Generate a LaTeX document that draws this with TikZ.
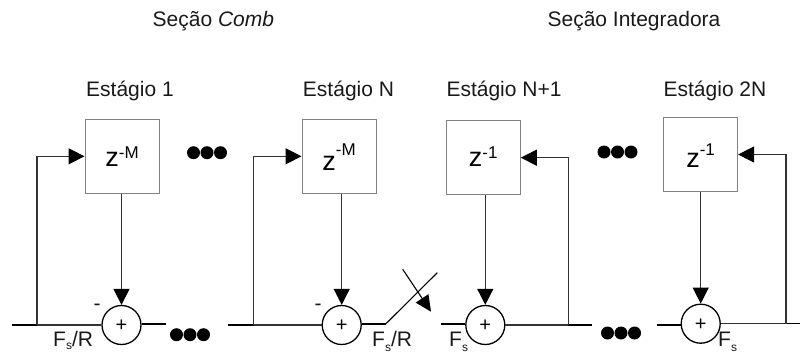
\documentclass[tikz,border=0pt]{standalone}
\usepackage{fontspec}
\setmainfont{Liberation Sans}
\usetikzlibrary{arrows.meta}

\newcommand{\zlabel}[3]{\raisebox{-#3pt}[0pt][0pt]{\fontsize{27}{30}\selectfont z\raisebox{#2pt}{\fontsize{17}{20}\selectfont #1}}}
\newcommand{\fslabel}[2]{F\raisebox{-#1pt}{\fontsize{12}{14}\selectfont s}#2}
\newcommand{\plussign}{\raisebox{-6.7pt}[0pt][0pt]{\fontsize{20}{24}\selectfont +}}

\tikzset{
  delaybox/.style={draw=cBox,line width=1pt,minimum size=74pt,inner sep=0pt},
  sumnode/.style={draw,circle,fill=white,line width=1.3pt,minimum size=39pt,inner sep=0pt},
  dotnode/.style={fill=black,circle,minimum size=13pt,inner sep=0pt},
  wire/.style={line width=1.3pt,black!80},
  busline/.style={line width=1.8pt},
  sigarrow/.style={wire,-{Triangle[length=16pt,width=16pt,color=black]}},
  lbl/.style={font=\fontsize{21}{24}\selectfont,inner sep=0pt,anchor=base,text=black!90},
  fslbl/.style={lbl,anchor=base west}
}

\begin{document}
\begin{tikzpicture}[x=1pt,y=-1pt]
  \definecolor{cBox}{RGB}{130,130,130}
  \useasboundingbox (0,0) rectangle (800,353);

  % section titles
  \node[lbl] (titleComb) at (213.4,26.7) {Seção \textit{Comb}};
  \node[lbl] (titleInt) at (634,26.7) {Seção Integradora};

  % stage titles
  \node[lbl] (stage1) at (130,96) {Estágio 1};
  \node[lbl] (stageN) at (348.5,96) {Estágio N};
  \node[lbl] (stageNp) at (504,96) {Estágio N+1};
  \node[lbl] (stage2N) at (715,96) {Estágio 2N};

  % delay boxes
  \node[delaybox] (box1) at (122,156.3) {\zlabel{-M}{8}{9.7}};
  \node[delaybox] (boxN) at (339,156.3) {\zlabel{-M}{15}{13.7}};
  \node[delaybox] (boxNp) at (483.3,157.7) {\zlabel{-1}{8.5}{9}};
  \node[delaybox] (box2N) at (700.6,154.5) {\zlabel{-1}{12}{13}};

  % adders
  \node[sumnode] (sum1) at (121.5,325) {\plussign};
  \node[sumnode] (sumN) at (341.7,325) {\plussign};
  \node[sumnode] (sumNp) at (485.3,325) {\plussign};
  \node[sumnode] (sum2N) at (700.7,323.7) {\plussign};

  % line ends and taps
  \coordinate (in1) at (12,325);
  \coordinate (tap1) at (37,325);
  \coordinate (out1) at (166,324);
  \coordinate (inN) at (228,325);
  \coordinate (tapN) at (253.5,325);
  \coordinate (swA) at (385.7,324);
  \coordinate (swB) at (437.3,272.7);
  \coordinate (swC) at (402.7,269.3);
  \coordinate (swD) at (431,311.7);
  \coordinate (inNp) at (441,324);
  \coordinate (tapNp) at (568.3,325);
  \coordinate (outNp) at (591.7,325);
  \coordinate (in2N) at (657,325);
  \coordinate (tap2N) at (786,323.5);
  \coordinate (out2N) at (800,323.5);

  % comb stages
  \draw[busline] (in1) -- (tap1);
  \draw[wire] (tap1) -- (sum1.west);
  \draw[busline] (out1 -| sum1.east) -- (out1);
  \draw[sigarrow] (tap1) |- (box1.west);
  \draw[sigarrow] (box1.south -| sum1.north) -- (sum1.north);
  \draw[busline] (inN) -- (tapN);
  \draw[wire] (tapN) -- (sumN.west);
  \draw[sigarrow] (tapN) |- (boxN.west);
  \draw[sigarrow] (boxN.south -| sumN.north) -- (sumN.north);

  % rate-change switch
  \draw[busline] (swA -| sumN.east) -- (swA);
  \draw[line width=1.1pt] (swA) -- (swB);
  \draw[line width=1.1pt,-{Triangle[length=16pt,width=15pt]}] (swC) -- (swD);

  % integrator stages
  \draw[busline] (inNp) -- (inNp -| sumNp.west);
  \draw[wire] (sumNp.east) -- (tapNp);
  \draw[busline] (tapNp) -- (outNp);
  \draw[sigarrow] (tapNp) |- (boxNp.east);
  \draw[sigarrow] (boxNp.south -| sumNp.north) -- (sumNp.north);
  \draw[busline] (in2N) -- (in2N -| sum2N.west);
  \draw[wire] (tap2N -| sum2N.east) -- (tap2N);
  \draw[busline] (tap2N) -- (out2N);
  \draw[sigarrow] (tap2N) |- (box2N.east);
  \draw[sigarrow] (box2N.south -| sum2N.north) -- (sum2N.north);

  % continuation dots
  \foreach \cx/\cy [count=\i] in {193.5/152.7,176.5/334.7,604/152,607.5/333}
    \foreach \dx in {0,13.5,27}
      \node[dotnode] (dot\i-\dx) at (\cx+\dx,\cy) {};

  % signs and rates
  \node[lbl] (minus1) at (97,310) {-};
  \node[lbl] (minusN) at (318,310) {-};
  \node[fslbl] (rate1) at (53,346.7) {\fslabel{3}{/R}};
  \node[fslbl] (rateN) at (372,346.7) {\fslabel{4.5}{/R}};
  \node[fslbl] (rateNp) at (449,346.7) {\fslabel{4.5}{}};
  \node[fslbl] (rate2N) at (718,346.7) {\fslabel{4.5}{}};
\end{tikzpicture}
\end{document}
